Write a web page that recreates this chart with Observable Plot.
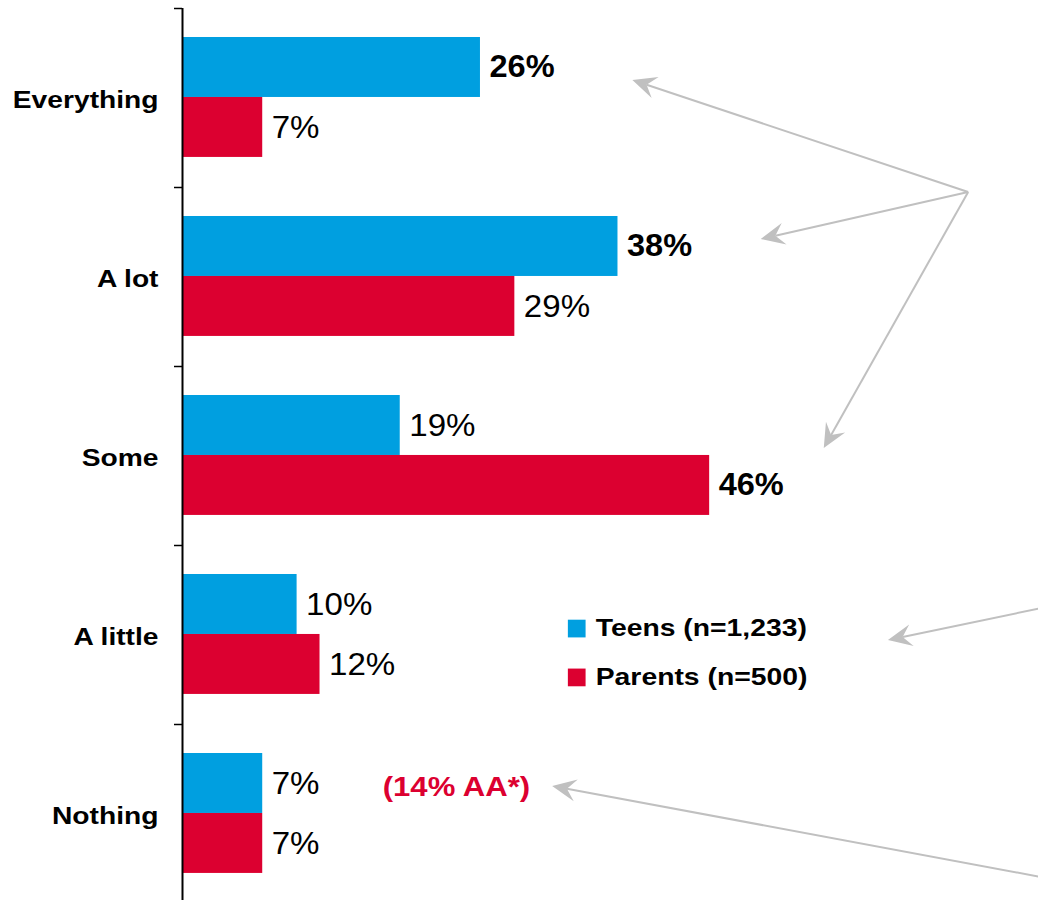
<!DOCTYPE html>
<html>
<head>
<meta charset="utf-8">
<script src="https://cdn.jsdelivr.net/npm/d3@7"></script>
<script src="https://cdn.jsdelivr.net/npm/@observablehq/plot@0.6"></script>
<style>
  html, body { margin: 0; padding: 0; background: #fff; }
  #chart svg { display: block; }
</style>
</head>
<body>
<div id="chart"></div>
<script>
// ---- data ----
const categories = ["Everything", "A lot", "Some", "A little", "Nothing"];
const seriesNames = ["Teens (n=1,233)", "Parents (n=500)"];
const teensValues = [26, 38, 19, 10, 7];
const parentsValues = [7, 29, 46, 12, 7];
const teensBold = [true, true, false, false, false];
const parentsBold = [false, false, true, false, false];
const seriesColors = ["#009fe0", "#dc0030"];
const noteText = ["(14% AA*)"];

// annotation positions in data units (x: percent, y: category rows from top)
const noteX = 23.9, noteY = 4.352;
const legendX = 34.4, legendY = [3.464, 3.737];
const arrowX1 = [68.6, 68.6, 68.6, 75.0, 75.0];
const arrowY1 = [1.028, 1.028, 1.028, 3.352, 4.855];
const arrowX2 = [39.3, 50.5, 56.0, 61.6, 32.3];
const arrowY2 = [0.402, 1.291, 2.458, 3.531, 4.346];

// ---- layout ----
const PAD = 0.162, BAR = 0.335;
const FONT = "Liberation Sans, Arial, Helvetica, sans-serif";

const rows = categories.flatMap((c, i) => [
  {category: c, index: i, series: seriesNames[0], slot: 0, value: teensValues[i], bold: teensBold[i]},
  {category: c, index: i, series: seriesNames[1], slot: 1, value: parentsValues[i], bold: parentsBold[i]}
]);
const barY1 = d => d.index + PAD + d.slot * BAR;
const barY2 = d => d.index + PAD + (d.slot + 1) * BAR;
const barMid = d => d.index + PAD + (d.slot + 0.5) * BAR;

const chart = Plot.plot({
  width: 1038,
  height: 900,
  marginLeft: 182,
  marginRight: 54,
  marginTop: 8,
  marginBottom: 0,
  style: {fontFamily: FONT, background: "#fff", overflow: "visible"},
  x: {domain: [0, 70], range: [182, 182 + 70 * 11.46], axis: null},
  y: {domain: [0, 5], range: [8, 903], axis: null},
  color: {domain: seriesNames, range: seriesColors},
  marks: [
    Plot.rect(rows, {x1: d => 0, x2: "value", y1: barY1, y2: barY2, fill: "series"}),
    Plot.ruleX([0], {y1: 0, y2: 5.1, stroke: "#000", strokeWidth: 2}),
    Plot.ruleY(d3.range(categories.length + 1), {x1: d => 0, x2: d => 0, insetLeft: -8, stroke: "#000", strokeWidth: 1.5}),
    Plot.text(categories, {x: d => 0, y: (d, i) => i + 0.5, text: d => d, dx: -24, dy: 2, textAnchor: "end",
      fontWeight: "bold", fontSize: 23.5, fill: "#000", fontFamily: FONT}),
    Plot.text(rows.filter(d => d.bold), {x: "value", y: barMid, text: d => d.value + "%", dx: 9, textAnchor: "start",
      fontWeight: "bold", fontSize: 31, fill: "#000", fontFamily: FONT}),
    Plot.text(rows.filter(d => !d.bold), {x: "value", y: barMid, text: d => d.value + "%", dx: 9, textAnchor: "start",
      fontWeight: "normal", fontSize: 31.5, fill: "#000", fontFamily: FONT}),
    Plot.dot(seriesNames, {x: d => legendX, y: (d, i) => legendY[i], symbol: "square", r: 10, fill: d => d, stroke: null}),
    Plot.text(seriesNames, {x: d => legendX, y: (d, i) => legendY[i], text: d => d, dx: 19, textAnchor: "start",
      fontWeight: "bold", fontSize: 24, fill: "#000", fontFamily: FONT}),
    Plot.text(noteText, {x: d => noteX, y: d => noteY, text: d => d, textAnchor: "middle",
      fontWeight: "bold", fontSize: 28, fill: "#dc0030", fontFamily: FONT})
  ]
});

document.getElementById("chart").appendChild(chart);

// widen glyphs to match the reference's horizontally stretched lettering
const stretchBySize = {"23.5": 1.2, "31": 1.05, "31.5": 1.05, "24": 1.18, "28": 1.11};
d3.select(chart).selectAll("g[aria-label='text']").each(function () {
  const f = stretchBySize[this.getAttribute("font-size")] || 1;
  d3.select(this).selectAll("text").each(function () {
    const L = this.getComputedTextLength();
    this.setAttribute("textLength", (L * f).toFixed(1));
    this.setAttribute("lengthAdjust", "spacingAndGlyphs");
  });
});

// annotation arrows drawn with the chart's own scales
const xs = chart.scale("x"), ys = chart.scale("y");
const fx = xs.apply ? v => xs.apply(v) : d3.scaleLinear(xs.domain, xs.range);
const fy = ys.apply ? v => ys.apply(v) : d3.scaleLinear(ys.domain, ys.range);
const g = d3.select(chart).append("g").attr("aria-label", "arrows");
arrowX1.forEach((_, k) => {
  const sx = fx(arrowX1[k]), sy = fy(arrowY1[k]);
  const tx = fx(arrowX2[k]), ty = fy(arrowY2[k]);
  const len = Math.hypot(tx - sx, ty - sy);
  const ux = (tx - sx) / len, uy = (ty - sy) / len;
  const nx = -uy, ny = ux;
  const L = 24, W = 11, N = 15;
  g.append("line")
    .attr("x1", sx).attr("y1", sy)
    .attr("x2", tx - ux * N).attr("y2", ty - uy * N)
    .attr("stroke", "#c0c0c0").attr("stroke-width", 2);
  const pts = [
    [tx, ty],
    [tx - ux * L + nx * W, ty - uy * L + ny * W],
    [tx - ux * N, ty - uy * N],
    [tx - ux * L - nx * W, ty - uy * L - ny * W]
  ];
  g.append("polygon").attr("points", pts.map(p => p.join(",")).join(" ")).attr("fill", "#c0c0c0");
});
</script>
</body>
</html>
